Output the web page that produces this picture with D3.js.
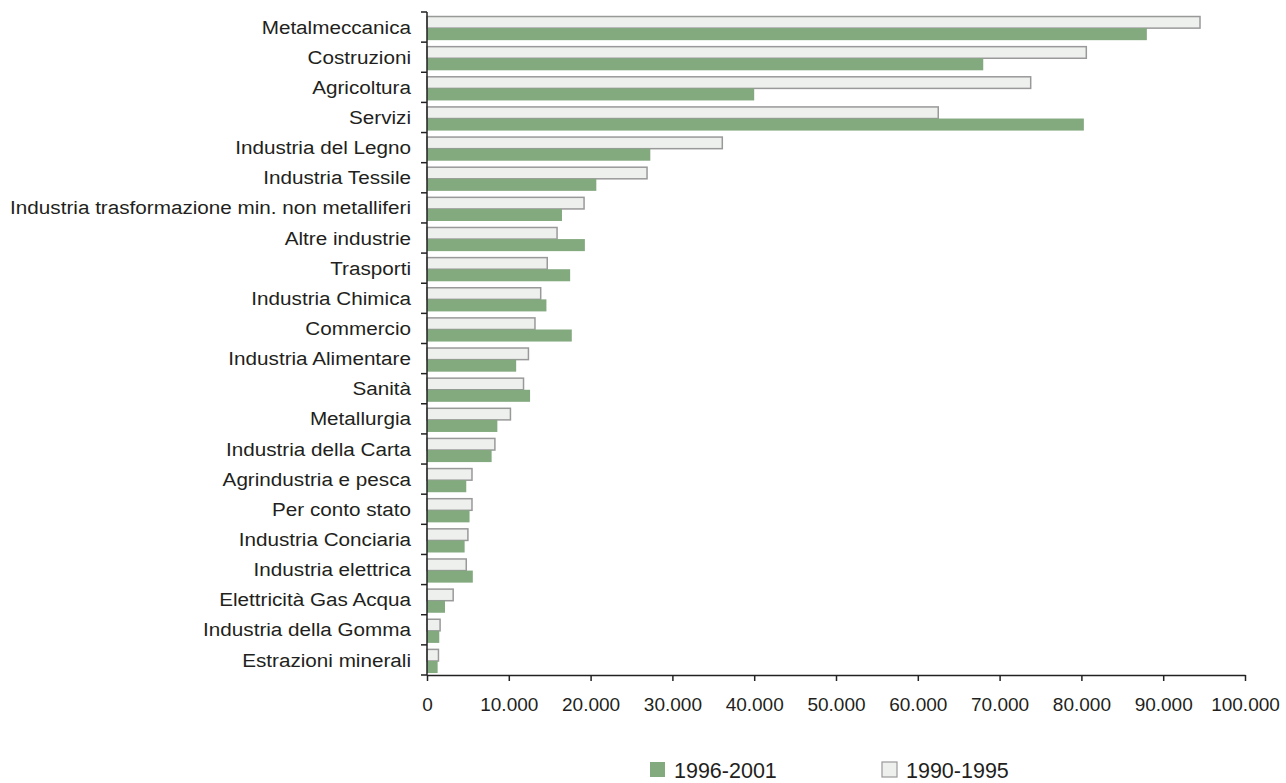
<!DOCTYPE html>
<html>
<head>
<meta charset="utf-8">
<script src="https://cdn.jsdelivr.net/npm/d3@7"></script>
<style>
  html, body { margin: 0; padding: 0; background: #fff; }
  svg { display: block; }
  text { font-family: "Liberation Sans", Arial, sans-serif; fill: #231f20; }
</style>
</head>
<body>
<svg id="chart" width="1286" height="783"></svg>
<script>
// Sectors, top to bottom
const categories = [
  "Metalmeccanica", "Costruzioni", "Agricoltura", "Servizi",
  "Industria del Legno", "Industria Tessile",
  "Industria trasformazione min. non metalliferi", "Altre industrie",
  "Trasporti", "Industria Chimica", "Commercio", "Industria Alimentare",
  "Sanità", "Metallurgia", "Industria della Carta", "Agrindustria e pesca",
  "Per conto stato", "Industria Conciaria", "Industria elettrica",
  "Elettricità Gas Acqua", "Industria della Gomma", "Estrazioni minerali"
];

// Period 1990-1995
const values1990 = [
  94500, 80600, 73800, 62500, 36100, 26900, 19200, 15900, 14700, 13900,
  13200, 12400, 11800, 10200, 8300, 5500, 5500, 5000, 4800, 3200, 1600, 1400
];

// Period 1996-2001
const values1996 = [
  88000, 68000, 40000, 80300, 27300, 20700, 16500, 19300, 17500, 14600,
  17700, 10900, 12600, 8600, 7900, 4800, 5200, 4600, 5600, 2200, 1500, 1300
];

const xTicks = [0, 10000, 20000, 30000, 40000, 50000, 60000, 70000, 80000, 90000, 100000];
const seriesNames = ["1996-2001", "1990-1995"];

const GREEN = "#83a97f";
const LIGHT = "#eef0ee";
const EDGE = "#999999";

const svg = d3.select("#chart");

const x = d3.scaleLinear().domain([0, 100000]).range([427, 1245]);
const y = d3.scaleBand().domain(categories).range([12, 675]).paddingInner(0).paddingOuter(0);
const bw = y.bandwidth();

const fmt = v => d3.format(",")(v).replace(/,/g, ".");

// bars
const rows = categories.map((c, i) => ({ c, a: values1990[i], b: values1996[i] }));
const g = svg.append("g");

g.selectAll("rect.old").data(rows).join("rect")
  .attr("class", "old")
  .attr("x", x(0))
  .attr("y", d => y(d.c) + bw * 0.15)
  .attr("width", d => x(d.a) - x(0))
  .attr("height", bw * 0.385)
  .attr("fill", LIGHT)
  .attr("stroke", EDGE)
  .attr("stroke-width", 1.5);

g.selectAll("rect.new").data(rows).join("rect")
  .attr("class", "new")
  .attr("x", x(0))
  .attr("y", d => y(d.c) + bw * 0.15 + bw * 0.385)
  .attr("width", d => x(d.b) - x(0))
  .attr("height", bw * 0.4)
  .attr("fill", GREEN);

// x axis
const xAxis = d3.axisBottom(x).tickValues(xTicks).tickFormat(fmt).tickSize(6).tickSizeOuter(0).tickPadding(17);
const gx = svg.append("g").attr("transform", `translate(0,${y.range()[1]})`).call(xAxis);
gx.select(".domain").attr("stroke", "#222").attr("stroke-width", 1.5);
gx.selectAll(".tick line").attr("stroke", "#222").attr("stroke-width", 1.5);
gx.selectAll(".tick text").attr("font-size", 19).attr("fill", "#231f20")
  .attr("font-family", "'Liberation Sans', Arial, sans-serif");

// y axis: boundary ticks between categories
const gy = svg.append("g");
gy.append("line").attr("x1", x(0)).attr("x2", x(0)).attr("y1", y.range()[0]).attr("y2", y.range()[1])
  .attr("stroke", "#222").attr("stroke-width", 1.5);
const bounds = categories.map(c => y(c)).concat([y.range()[1]]);
gy.selectAll("line.t").data(bounds).join("line")
  .attr("class", "t")
  .attr("x1", x(0) - 6).attr("x2", x(0))
  .attr("y1", d => d).attr("y2", d => d)
  .attr("stroke", "#222").attr("stroke-width", 1.5);

gy.selectAll("text").data(categories).join("text")
  .attr("transform", d => `translate(411,${y(d) + bw / 2}) scale(1.1,1)`)
  .attr("text-anchor", "end")
  .attr("dy", "0.35em")
  .attr("font-size", 18.8)
  .text(d => d);

// legend
const legend = svg.append("g");
const items = [
  { name: seriesNames[0], fill: GREEN, stroke: "none", x: 650 },
  { name: seriesNames[1], fill: LIGHT, stroke: EDGE, x: 882 }
];
const li = legend.selectAll("g").data(items).join("g")
  .attr("transform", d => `translate(${d.x},762)`);
li.append("rect").attr("width", 15).attr("height", 15)
  .attr("fill", d => d.fill).attr("stroke", d => d.stroke).attr("stroke-width", 1.2);
li.append("text").attr("x", 24).attr("y", 8).attr("dy", "0.35em")
  .attr("font-size", 21.5).text(d => d.name);
</script>
</body>
</html>
